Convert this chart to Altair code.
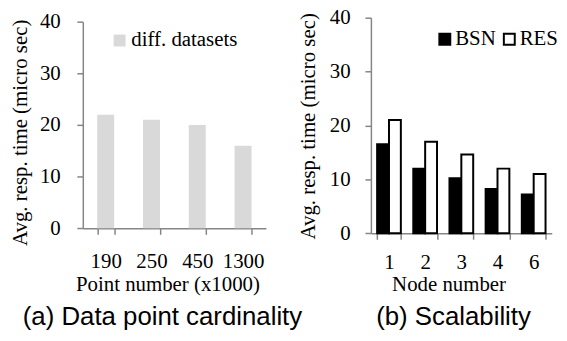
import altair as alt
import pandas as pd

# ---- data ----
point_numbers = ["190", "250", "450", "1300"]
dataset_times = [22, 21, 20, 16]
dataset_series = "diff. datasets"

node_numbers = ["1", "2", "3", "4", "6"]
bsn_times = [16.5, 12, 10.2, 8.2, 7.2]
res_times = [21, 17, 14.6, 12, 11]
series_names = ["BSN", "RES"]

y_ticks = [0, 10, 20, 30, 40]
subtitle_a = "(a) Data point cardinality"
subtitle_b = "(b) Scalability"
x_title_a = "Point number (x1000)"
x_title_b = "Node number"
y_title = "Avg. resp. time (micro sec)"

SERIF = "Liberation Serif"
SANS = "Liberation Sans"
GRAY = "#868686"
LIGHT = "#D9D9D9"

df_a = pd.DataFrame({
    "points": point_numbers,
    "time": dataset_times,
    "series": [dataset_series] * len(point_numbers),
})
df_b = pd.DataFrame({
    "node": node_numbers * 2,
    "time": bsn_times + res_times,
    "series": ["BSN"] * len(node_numbers) + ["RES"] * len(node_numbers),
})

# ---- panel (a) ----
WA, HA = 184.6, 212.3
bars_a = alt.Chart(df_a).mark_bar(color=LIGHT).encode(
    x=alt.X("points:N", sort=point_numbers,
            scale=alt.Scale(paddingInner=0.63, paddingOuter=0.315),
            axis=alt.Axis(title=x_title_a, labelAngle=0, tickBand="extent",
                          labelFont=SERIF, titleFont=SERIF,
                          tickSize=6, labelPadding=16, titleX=85.3, titleY=62.2,
                          titleBaseline="alphabetic", titleAlign="center")),
    y=alt.Y("time:Q", scale=alt.Scale(domain=[0, 40], range=[HA, 4]),
            axis=alt.Axis(values=y_ticks, title=y_title, titleAngle=270,
                          labelFont=SERIF, titleFont=SERIF,
                          titleX=-56.7, titleY=115.5, titleBaseline="alphabetic",
                          titleAlign="center", labelPadding=16.7, tickSize=6)),
    color=alt.Color("series:N", scale=alt.Scale(range=[LIGHT]),
                    legend=alt.Legend(title=None, orient="none", legendX=26.6, legendY=12.5,
                                      symbolType="square", symbolSize=144,
                                      symbolStrokeWidth=0, labelOffset=1.3, padding=0,
                                      labelFont=SERIF, labelFontSize=21, labelColor="black")),
)
sub_a = alt.Chart(pd.DataFrame({"t": [subtitle_a]})).mark_text(
    font=SANS, fontSize=26, baseline="alphabetic", align="center", color="black"
).encode(text="t:N", x=alt.value(80.3), y=alt.value(310))
panel_a = alt.layer(bars_a, sub_a).properties(width=WA, height=HA)

# ---- panel (b) ----
WB, HB = 182.3, 217.3
bars_b = alt.Chart(df_b).mark_bar(stroke="black", strokeWidth=2).encode(
    x=alt.X("node:N", sort=node_numbers,
            scale=alt.Scale(paddingInner=0.344, paddingOuter=0.172),
            axis=alt.Axis(title=x_title_b, labelAngle=0, tickBand="extent",
                          labelFont=SERIF, titleFont=SERIF,
                          tickSize=6, labelPadding=12, titleX=78.3, titleY=57.7,
                          titleBaseline="alphabetic", titleAlign="center")),
    xOffset=alt.XOffset("series:N", sort=series_names,
                        scale=alt.Scale(paddingInner=0, paddingOuter=0)),
    y=alt.Y("time:Q", scale=alt.Scale(domain=[0, 40], range=[HB, 0]),
            axis=alt.Axis(values=y_ticks, title=y_title, titleAngle=270,
                          labelFont=SERIF, titleFont=SERIF,
                          titleX=-56.7, titleY=109, titleBaseline="alphabetic",
                          titleAlign="center", labelPadding=15, tickSize=6)),
    fill=alt.Fill("series:N", sort=series_names,
                  scale=alt.Scale(domain=series_names, range=["black", "white"]),
                  legend=alt.Legend(title=None, orient="none", direction="horizontal",
                                    legendX=64, legendY=11, symbolType="square",
                                    symbolSize=121, symbolStrokeColor="black",
                                    symbolStrokeWidth=2, labelOffset=0, columnPadding=3,
                                    padding=0, labelFont=SERIF, labelFontSize=21,
                                    labelColor="black")),
)
sub_b = alt.Chart(pd.DataFrame({"t": [subtitle_b]})).mark_text(
    font=SANS, fontSize=26, baseline="alphabetic", align="center", color="black"
).encode(text="t:N", x=alt.value(83.3), y=alt.value(310))
panel_b = alt.layer(bars_b, sub_b).properties(width=WB, height=HB)

chart = alt.hconcat(panel_a, panel_b, spacing=105.4, bounds="flush").resolve_scale(
    x="independent", y="independent", color="independent", fill="independent"
).properties(
    padding={"left": 1.4, "top": -2.5, "right": 0, "bottom": 0}
).configure_axis(
    domainColor=GRAY, tickColor=GRAY, domainWidth=1.5, tickWidth=1.5,
    labelFont=SERIF, labelFontSize=21, labelColor="black",
    titleFont=SERIF, titleFontSize=21, titleFontWeight="normal", titleColor="black",
    grid=False,
).configure_view(strokeWidth=0)

chart.save("out.html", embed_options={"renderer": "svg", "actions": False})
